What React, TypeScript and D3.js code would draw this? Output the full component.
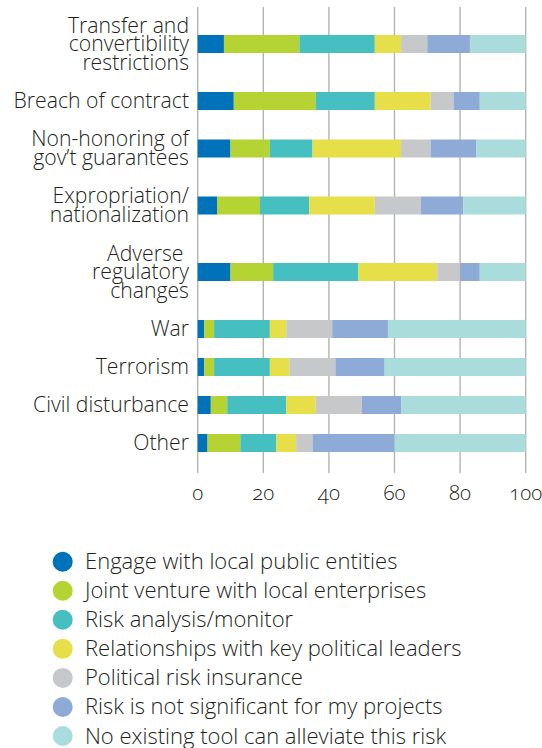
import React from 'react';
import * as d3 from 'd3';

const categories = [
  'Transfer and|convertibility|restrictions',
  'Breach of contract',
  'Non-honoring of|gov\u2019t guarantees',
  'Expropriation/|nationalization',
  'Adverse |regulatory|changes',
  'War',
  'Terrorism',
  'Civil disturbance',
  'Other',
];

const seriesNames = [
  'Engage with local public entities',
  'Joint venture with local enterprises',
  'Risk analysis/monitor',
  'Relationships with key political leaders',
  'Political risk insurance',
  'Risk is not significant for my projects',
  'No existing tool can alleviate this risk',
];

// one array per series, in category order (percent of respondents)
const engage = [8, 11, 10, 6, 10, 2, 2, 4, 3];
const jointVenture = [23, 25, 12, 13, 13, 3, 3, 5, 10];
const riskAnalysis = [23, 18, 13, 15, 26, 17, 17, 18, 11];
const relationships = [8, 17, 27, 20, 24, 5, 6, 9, 6];
const insurance = [8, 7, 9, 14, 7, 14, 14, 14, 5];
const notSignificant = [13, 8, 14, 13, 6, 17, 15, 12, 25];
const noTool = [17, 14, 15, 19, 14, 42, 43, 38, 40];

const ticks = [0, 20, 40, 60, 80, 100];

const colors = ['#0072b9', '#b6d334', '#46bfc0', '#e6df49', '#c7c8ca', '#8eabd7', '#aadcdc'];

const FONT = "'Open Sans', Lato, sans-serif";
const W = 542;
const H = 748;

export default function App() {
  const values = [engage, jointVenture, riskAnalysis, relationships, insurance, notSignificant, noTool];
  const rows = categories.map((c, i) => {
    const r: Record<string, any> = { cat: c };
    seriesNames.forEach((s, j) => (r[s] = values[j][i]));
    return r;
  });
  const stacked = d3.stack().keys(seriesNames)(rows as any);

  const x = d3.scaleLinear().domain([0, 100]).range([197.7, 525.7]);

  // row slot height grows with the number of label lines
  const lineH = 19;
  const slots = categories.map(c => lineH * (c.split('|').length + 1));
  const centers: number[] = [];
  let top = 6;
  slots.forEach(s => { centers.push(top + s / 2); top += s; });
  const y = d3.scaleOrdinal<string, number>().domain(categories).range(centers);
  const barH = 18;

  const legendY = d3.scalePoint<string>().domain(seriesNames).range([561.7, 736]);

  return (
    <svg width={W} height={H} style={{ position: 'absolute', left: 0, top: 0 }} fontFamily={FONT} fontWeight={300}>
      <g>
        {ticks.map(t => (
          <line key={t} x1={x(t)} x2={x(t)} y1={7} y2={473} stroke="#b3b3b3" strokeWidth={1.4} />
        ))}
      </g>
      <g>
        {stacked.map((layer, j) => (
          <g key={layer.key} fill={colors[j]}>
            {layer.map((d, i) => (
              <rect key={i} x={x(d[0])} width={x(d[1]) - x(d[0])}
                y={y(categories[i]) - barH / 2} height={barH} />
            ))}
          </g>
        ))}
      </g>
      <g fontSize={21.2} fill="#231f20" textAnchor="end" style={{ whiteSpace: 'pre' }}>
        {categories.map(c => {
          const lines = c.split('|');
          const first = y(c) + 7 - ((lines.length - 1) / 2) * 18.5;
          return (
            <text key={c} x={189}>
              {lines.map((l, k) => (
                <tspan key={k} x={189} y={first + k * 18.5}>{l}</tspan>
              ))}
            </text>
          );
        })}
      </g>
      <g fontSize={20.5} fill="#231f20" textAnchor="middle" style={{ fontVariantNumeric: 'oldstyle-nums' }}>
        {ticks.map(t => (
          <text key={t} x={x(t)} y={500}>{t}</text>
        ))}
      </g>
      <g>
        {seriesNames.map((s, j) => (
          <g key={s} transform={`translate(0,${legendY(s)})`}>
            <circle cx={62.7} cy={0} r={10} fill={colors[j]} />
            <text x={85} y={7.5} fontSize={22} fill="#231f20">{s}</text>
          </g>
        ))}
      </g>
    </svg>
  );
}
